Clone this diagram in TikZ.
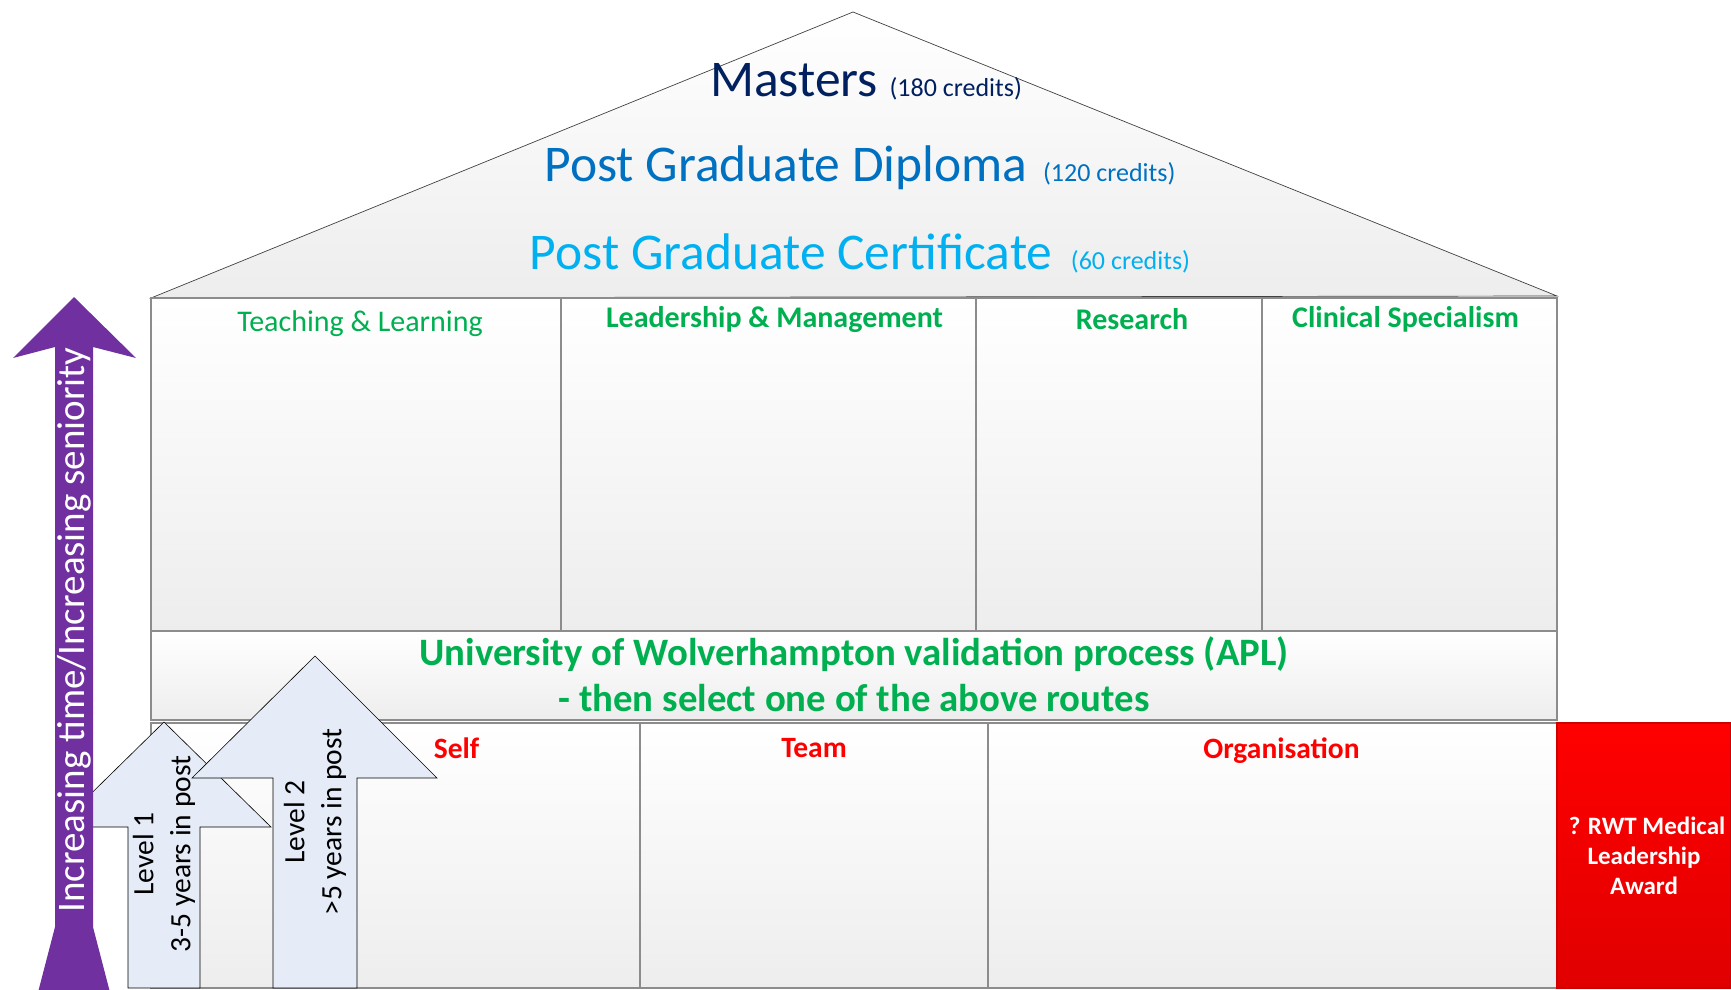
\documentclass[tikz,border=0pt]{standalone}
\usepackage{fontspec}
\setmainfont{Carlito}
\usetikzlibrary{positioning}

\definecolor{routegreen}{HTML}{00B050}
\definecolor{tierred}{HTML}{FF0000}
\definecolor{mastersblue}{HTML}{002060}
\definecolor{diplomablue}{HTML}{0070C0}
\definecolor{certblue}{HTML}{00B0F0}
\definecolor{timepurple}{HTML}{7030A0}
\definecolor{levelfill}{HTML}{E6ECF7}
\definecolor{edgegray}{HTML}{8C8C8C}

\newcommand{\sz}[2]{\fontsize{#1}{#2}\selectfont}

\begin{document}
\begin{tikzpicture}[x=1pt,y=-1pt,
  box/.style={draw=edgegray,line width=1.3pt,top color=white,bottom color=black!7,inner sep=0pt,outer sep=0pt},
  column/.style={box,minimum height=333pt},
  tier/.style={box,minimum height=265pt},
  route/.style={anchor=base,yshift=-29pt,inner sep=0pt,text=routegreen,font=\bfseries\sz{30}{36}},
  tiertext/.style={anchor=north,yshift=-15pt,inner sep=0pt,text=tierred,font=\bfseries\sz{29.5}{36}},
  roofline/.style={anchor=base,font=\sz{51.5}{60}},
  level/.style={draw=black,line width=0.6pt,fill=levelfill},
  leveltext/.style={rotate=90,align=center,font=\sz{29.5}{37}}]
\path[use as bounding box,clip] (0,0) rectangle (1731,989);

\draw[draw=black!75,line width=0.7pt,top color=white,bottom color=black!7]
  (151,298) -- (853,12) -- (1557,296) -- cycle;
\node[roofline,text=mastersblue] (masters) at (866,96)
  {Masters {\sz{26}{30}(180 credits)}};
\node[roofline,text=diplomablue] (diploma) at (860,181)
  {Post Graduate Diploma\hspace{4pt} {\sz{26}{30}(120 credits)}};
\node[roofline,text=certblue] (cert) at (860,269)
  {Post Graduate Certificate\hspace{7pt} {\sz{26}{30}(60 credits)}};

\node[column,minimum width=410pt,anchor=north west,
  label={[route,xshift=4pt,yshift=-4pt,font=\sz{30}{36}]north:Teaching \& Learning}] (teach) at (151,298) {};
\node[column,minimum width=415pt,right=0pt of teach,
  label={[route,xshift=6pt]north:Leadership \& Management}] (lead) {};
\node[column,minimum width=286pt,right=0pt of lead,
  label={[route,xshift=13pt,yshift=-2pt]north:Research}] (research) {};
\node[column,minimum width=295pt,right=0pt of research,
  label={[route,xshift=-4pt]north:Clinical Specialism}] (clinical) {};

\node[box,minimum width=1406pt,minimum height=89pt,anchor=north west] (apl) at (teach.south west) {};
\node[anchor=base,text=routegreen,font=\bfseries\sz{38.8}{45}] (aplA) at (854,665) {University of Wolverhampton validation process (APL)};
\node[anchor=base,text=routegreen,font=\bfseries\sz{38.8}{45}] (aplB) at (854,711) {- then select one of the above routes};

\node[tier,minimum width=489pt,anchor=north west,
  label={[tiertext,xshift=61pt]north:Self}] (self) at (151,723) {};
\node[tier,minimum width=348pt,right=0pt of self,
  label={[tiertext]north:Team}] (team) {};
\node[tier,minimum width=569pt,right=0pt of team,
  label={[tiertext,xshift=9pt]north:Organisation}] (org) {};
\node[tier,minimum width=174pt,right=0pt of org,draw=tierred!80!black,top color=tierred,bottom color=tierred!88!black,
  text=white,align=center,font=\bfseries\sz{25}{30}] (award) {\hspace*{6pt}? RWT Medical\\Leadership\\Award};

\draw[level] (128,988) -- (128,827) -- (57,827) -- (164,722) -- (271,827) -- (200,827) -- (200,988) -- cycle;
\node[leveltext] (levelA) at (164,854) {Level 1\\3-5 years in post};
\draw[level] (273,988) -- (273,778) -- (192,778) -- (315,656) -- (437,778) -- (357,778) -- (357,988) -- cycle;
\node[leveltext] (levelB) at (315,822) {Level 2\\>5 years in post};

\fill[timepurple] (74,297) -- (136,358) -- (93,347) -- (93,927) -- (125,1050) -- (74,1100)
  -- (23,1050) -- (55,927) -- (55,347) -- (13,358) -- cycle;
\node[rotate=90,text=white,font=\sz{39}{46}] (seniority) at (74,630) {Increasing time/Increasing seniority};
\end{tikzpicture}
\end{document}
